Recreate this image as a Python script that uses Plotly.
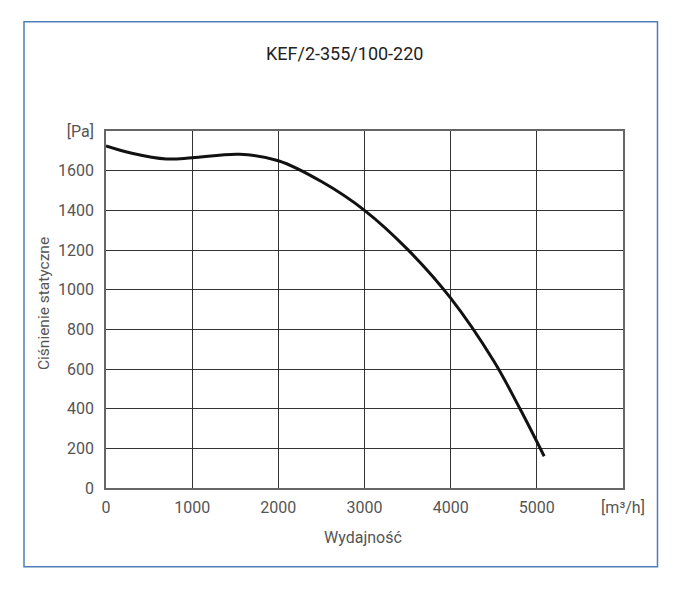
import plotly.graph_objects as go

flow = [0, 300, 700, 1000, 1550, 2000, 2500, 3000, 3500, 4000, 4500, 4800, 5085]
pressure = [1725, 1688, 1659, 1665, 1683, 1650, 1545, 1400, 1203, 957, 640, 403, 160]

x_ticks = [0, 1000, 2000, 3000, 4000, 5000, 6000]
x_tick_text = ["0", "1000", "2000", "3000", "4000", "5000", "[m³/h]"]
y_ticks = [0, 200, 400, 600, 800, 1000, 1200, 1400, 1600, 1800]
y_tick_text = ["0", "200", "400", "600", "800", "1000", "1200", "1400", "1600", "[Pa]"]

title = "KEF/2-355/100-220"
x_title = "Wydajność"
y_title = "Ciśnienie statyczne"

FONT = "Roboto"
TICK_COLOR = "#555555"

fig = go.Figure()
fig.add_trace(go.Scatter(
    x=flow, y=pressure, mode="lines",
    line=dict(color="#111111", width=3, shape="spline", smoothing=1.0),
    hoverinfo="skip", showlegend=False,
))

fig.update_layout(
    width=687, height=600,
    margin=dict(l=98, r=72, t=123, b=120),
    paper_bgcolor="white", plot_bgcolor="white",
    font=dict(family=FONT, color=TICK_COLOR, size=16),
    showlegend=False,
)

fig.update_xaxes(
    range=[0, 6000], tickvals=x_ticks, ticktext=x_tick_text,
    showgrid=True, gridcolor="#333333", gridwidth=1,
    showline=True, linecolor="#666666", linewidth=1.5, mirror=True,
    zeroline=False, ticks="", ticklabelstandoff=4,
    tickfont=dict(family=FONT, size=16, color=TICK_COLOR),
    fixedrange=True,
)
fig.update_yaxes(
    range=[0, 1800], tickvals=y_ticks, ticktext=y_tick_text,
    showgrid=True, gridcolor="#333333", gridwidth=1,
    showline=True, linecolor="#666666", linewidth=1.5, mirror=True,
    zeroline=False, ticks="", ticklabelstandoff=7,
    tickfont=dict(family=FONT, size=16, color=TICK_COLOR),
    fixedrange=True,
)

# outer frame
fig.add_shape(type="rect", xref="paper", yref="paper",
              x0=-0.1586, x1=1.0667, y0=-0.2204, y1=1.306,
              line=dict(color="#4f7fb5", width=1.5), fillcolor="rgba(0,0,0,0)",
              layer="below")

fig.add_annotation(text=title, xref="paper", yref="paper", x=0.462, y=1.216,
                   showarrow=False, font=dict(family=FONT, size=18, color="#222222"),
                   xanchor="center", yanchor="middle")
fig.add_annotation(text=x_title, xref="paper", yref="paper", x=0.497, y=-0.140,
                   showarrow=False, font=dict(family=FONT, size=16, color=TICK_COLOR),
                   xanchor="center", yanchor="middle")
fig.add_annotation(text=y_title, xref="paper", yref="paper", x=-0.12, y=0.518,
                   showarrow=False, textangle=-90,
                   font=dict(family=FONT, size=15.5, color=TICK_COLOR),
                   xanchor="center", yanchor="middle")

fig.write_html("out.html")
